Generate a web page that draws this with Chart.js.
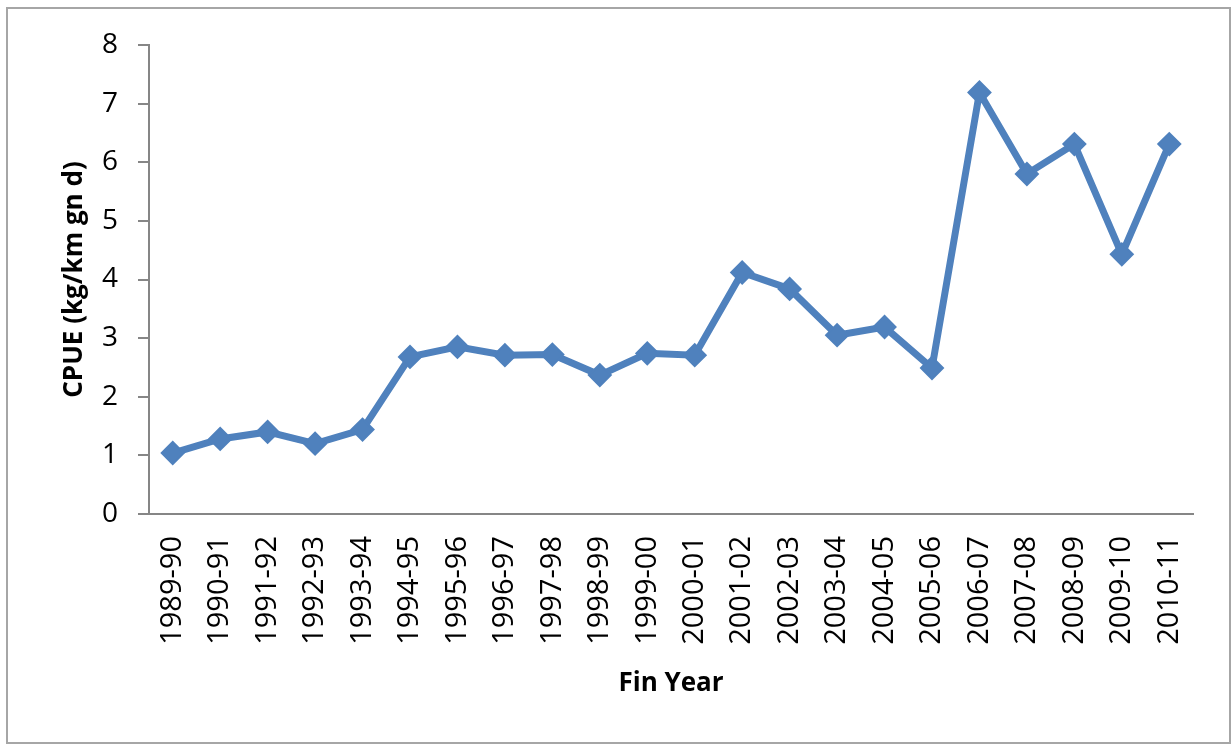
<!DOCTYPE html>
<html>
<head>
<meta charset="utf-8">
<script src="https://cdn.jsdelivr.net/npm/chart.js@4/dist/chart.umd.min.js"></script>
<style>
  body { margin: 0; background: #fff; }
  .frame { position: absolute; left: 6px; top: 7px; width: 1221px; height: 733px; border: 2px solid #a6a6a6; }
  .wrap { position: absolute; left: 0; top: 0; width: 1231px; height: 744px; }
</style>
</head>
<body>
<div class="frame"></div>
<div class="wrap"><canvas id="cpue" width="1231" height="744"></canvas></div>
<script>
const finYears = ['1989-90', '1990-91', '1991-92', '1992-93', '1993-94', '1994-95', '1995-96',
    '1996-97', '1997-98', '1998-99', '1999-00', '2000-01', '2001-02', '2002-03', '2003-04',
    '2004-05', '2005-06', '2006-07', '2007-08', '2008-09', '2009-10', '2010-11']
const cpue = [1.04, 1.28, 1.40, 1.20, 1.44, 2.68, 2.85, 2.71, 2.72, 2.37, 2.74, 2.71,
    4.12, 3.84, 3.05, 3.19, 2.49, 7.19, 5.80, 6.31, 4.43, 6.31]
const yTicks = [0, 1, 2, 3, 4, 5, 6, 7, 8]

const blue = '#4f81bd'
const axisGrey = '#868686'
const font = '"Open Sans", "Liberation Sans", sans-serif'

const ctx = document.getElementById('cpue').getContext('2d')

new Chart(ctx, {
    type: 'line',
    data: {
        labels: finYears,
        datasets: [{
            label: 'CPUE',
            data: cpue,
            borderColor: blue,
            backgroundColor: blue,
            borderWidth: 7,
            pointStyle: 'rectRot',
            pointRadius: 11,
            pointBorderWidth: 2,
            pointBorderColor: blue,
            pointBackgroundColor: blue,
            tension: 0
        }]
    },
    options: {
        responsive: false,
        animation: false,
        layout: { padding: { top: 45, right: 38, left: 0, bottom: 0 } },
        plugins: { legend: { display: false }, tooltip: { enabled: false } },
        scales: {
            x: {
                offset: true,
                grid: { drawOnChartArea: false, drawTicks: false },
                border: { color: axisGrey, width: 2 },
                ticks: {
                    color: '#000',
                    font: { family: font, size: 29 },
                    minRotation: 90,
                    maxRotation: 90,
                    padding: 22,
                    autoSkip: false
                },
                title: {
                    display: true,
                    text: 'Fin Year',
                    color: '#000',
                    font: { family: font, size: 26, weight: 'bold' },
                    padding: { top: 0, bottom: 45 }
                },
                afterFit: scale => { scale.height = 230 }
            },
            y: {
                min: 0,
                max: 8,
                afterBuildTicks: scale => { scale.ticks = yTicks.map(v => ({ value: v })) },
                grid: { drawOnChartArea: false, drawTicks: true, tickLength: 11, color: axisGrey, lineWidth: 2 },
                border: { color: axisGrey, width: 2 },
                ticks: {
                    color: '#000',
                    font: { family: font, size: 28 },
                    padding: 20
                },
                title: {
                    display: true,
                    text: 'CPUE (kg/km gn d)',
                    color: '#000',
                    font: { family: font, size: 26, weight: 'bold' },
                    padding: { top: 59, bottom: 0 }
                },
                afterFit: scale => { scale.width = 149 }
            }
        }
    }
})
</script>
</body>
</html>
